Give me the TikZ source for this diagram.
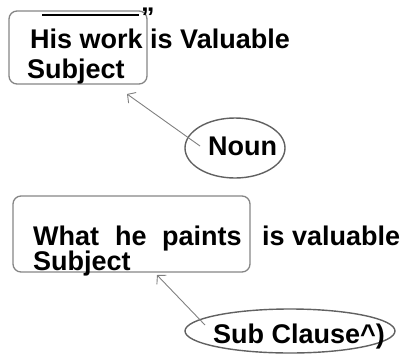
\documentclass[tikz,border=0pt]{standalone}
\usepackage{fontspec}
\setmainfont{Liberation Sans}
\usetikzlibrary{shapes.geometric,arrows.meta}
\begin{document}
\begin{tikzpicture}[x=1pt,y=-1pt,
  box/.style={draw=black!48,line width=1.3pt,rounded corners=8pt,inner sep=0pt},
  oval/.style={draw=black!62,line width=1.4pt,ellipse,inner sep=0pt},
  txt/.style={anchor=base west,inner sep=0pt,font=\fontsize{27}{32}\selectfont\bfseries},
  arr/.style={draw=black!50,line width=0.9pt,-{Straight Barb[length=6pt,width=13pt]}}]
\useasboundingbox (0,0) rectangle (407,354);

% first sentence
\node[box,minimum width=138pt,minimum height=73pt] (b1) at (78,47.5) {};
\draw[line width=2pt] (42,15) -- (139,15);
\node[txt] (q1) at (141,26) {”};
\node[txt] (s1) at (30,48) {His work is Valuable};
\node[txt] (j1) at (27,78) {Subject};

% label for the first sentence
\node[oval,minimum width=100pt,minimum height=60pt] (e1) at (235,148) {};
\node[txt] (n1) at (208,155) {Noun};
\coordinate (t1) at (200,146);
\coordinate (h1) at (127,94);
\draw[arr] (t1) -- (h1);

% second sentence
\node[box,minimum width=237pt,minimum height=76pt] (b2) at (131.5,234) {};
\node[txt] (w1) at (33,245) {What};
\node[txt] (w2) at (115,245) {he};
\node[txt] (w3) at (162,245) {paints};
\node[txt] (w4) at (262,245) {is valuable};
\node[txt] (j2) at (33,270) {Subject};

% label for the second sentence
\node[oval,minimum width=210pt,minimum height=44pt] (e2) at (290,331) {};
\node[txt] (n2) at (213,343) {Sub Clause\^{})};
\coordinate (t2) at (205,325);
\coordinate (h2) at (157,275);
\draw[arr] (t2) -- (h2);
\end{tikzpicture}
\end{document}
